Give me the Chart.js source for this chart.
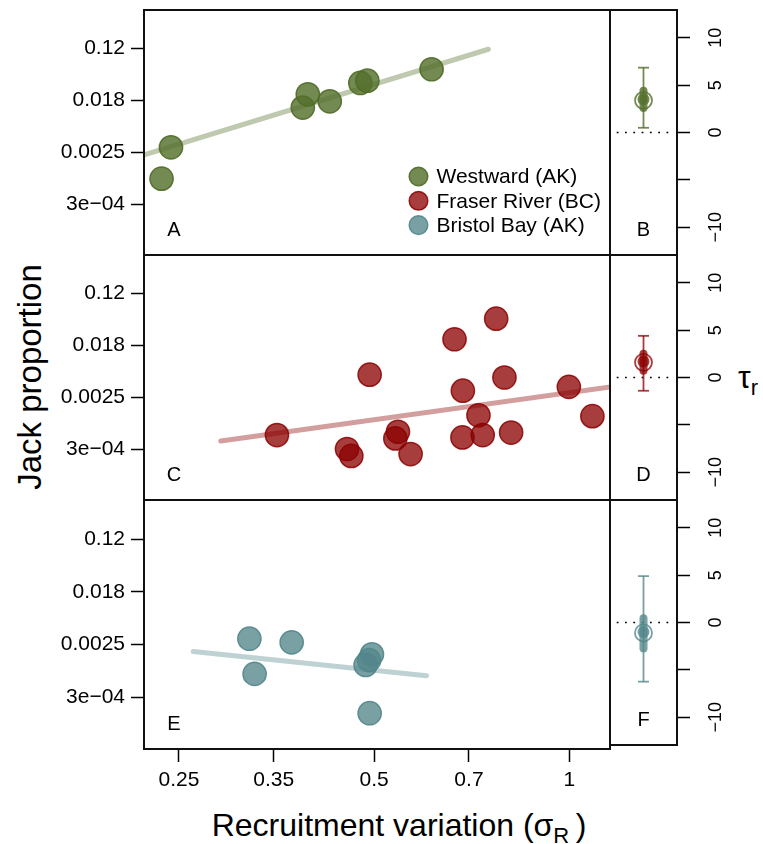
<!DOCTYPE html>
<html>
<head>
<meta charset="utf-8">
<script src="https://cdn.jsdelivr.net/npm/chart.js@4.4.1/dist/chart.umd.min.js"></script>
<style>
  body { margin: 0; background: #fff; }
  #fig { position: relative; width: 763px; height: 844px; overflow: hidden;
         font-family: "Liberation Sans", Arial, Helvetica, sans-serif; color: #000; }
  #fig canvas { position: absolute; }
  .ttl { position: absolute; white-space: nowrap; text-align: center; font-size: 32px; line-height: 36px; }
</style>
</head>
<body>
<div id="fig">
  <div class="ttl" style="left:-170px; top:359px; width:400px; font-size:33px; transform:rotate(-90deg);">Jack proportion</div>
  <div class="ttl" style="left:149px; top:807px; width:500px;">Recruitment variation (σ<span style="font-size:22px; position:relative; top:7px;">R</span>&thinsp;)</div>
  <div class="ttl" style="left:728px; top:359px; width:40px;">τ<span style="font-size:22px; position:relative; top:7px;">r</span></div>
</div>
<script>
// Westward (AK)
const westSigma = [0.235, 0.243, 0.388, 0.395, 0.427, 0.476, 0.488, 0.613];
const westJack = [0.0009, 0.003, 0.0137, 0.0227, 0.0174, 0.0346, 0.0377, 0.0573];
const westFitSigma = [0.2, 0.75];
const westFitJack = [0.00161, 0.116];

// Fraser River (BC)
const fraserSigma = [0.354, 0.454, 0.461, 0.492, 0.544, 0.539, 0.569, 0.665, 0.685,
  0.771, 0.724, 0.684, 0.735, 0.794, 0.813, 0.998, 1.085];
const fraserJack = [0.00058, 0.00034, 0.00026, 0.0059, 0.00066, 0.00051, 0.00028, 0.0227, 0.0032,
  0.0488, 0.00124, 0.00053, 0.00058, 0.0053, 0.00064, 0.0037, 0.0012];
const fraserFitSigma = [0.29, 1.2];
const fraserFitJack = [0.000462, 0.00389];

// Bristol Bay (AK)
const bristolSigma = [0.321, 0.373, 0.327, 0.496, 0.491, 0.485, 0.492];
const bristolJack = [0.0031, 0.0027, 0.00082, 0.00172, 0.00138, 0.00115, 0.000185];
const bristolFitSigma = [0.263, 0.602];
const bristolFitJack = [0.00192, 0.000765];

// tau_r posterior summaries, one entry per region (B, D, F)
const tauLow = [0.5, -1.4, -6.25];
const tauInnerLow = [2.6, 0.7, -2.75];
const tauMedian = [3.5, 1.7, -1.0];
const tauInnerHigh = [4.4, 2.5, 0.45];
const tauHigh = [6.85, 4.4, 4.9];
const tauMean = [3.4, 1.6, -1.1];

// axis ticks
const xTicks = [0.25, 0.35, 0.5, 0.7, 1];
const xTickLabels = ['0.25', '0.35', '0.5', '0.7', '1'];
const yTicks = [-2, -4, -6, -8]; // logit scale
const yTickLabels = ['0.12', '0.018', '0.0025', '3e\u221204'];
const tauTicks = [10, 5, 0, -5, -10];
const tauTickLabels = ['10', '5', '0', '', '\u221210'];

const regionNames = ['Westward (AK)', 'Fraser River (BC)', 'Bristol Bay (AK)'];

const palette = [
  { fill: 'rgba(85,112,45,0.82)', edge: 'rgba(78,108,38,0.9)', line: 'rgba(85,112,45,0.38)' },
  { fill: 'rgba(139,0,0,0.76)', edge: 'rgba(139,0,0,0.85)', line: 'rgba(139,0,0,0.38)' },
  { fill: 'rgba(83,134,139,0.78)', edge: 'rgba(83,134,139,0.9)', line: 'rgba(83,134,139,0.38)' },
];

const FONT = '"Liberation Sans", Arial, Helvetica, sans-serif';
Chart.defaults.font.family = FONT;
Chart.defaults.color = '#000';

const logit = (p) => Math.log(p / (1 - p));
const rowTop = [10, 255, 500];
const fig = document.getElementById('fig');

const addCanvas = (left, top, width, height) => {
  const c = document.createElement('canvas');
  c.width = width;
  c.height = height;
  c.style.left = left + 'px';
  c.style.top = top + 'px';
  c.style.width = width + 'px';
  c.style.height = height + 'px';
  fig.appendChild(c);
  return c;
};

// frame around each panel plus its letter
const panelBox = {
  id: 'panelBox',
  afterDraw(chart, args, opts) {
    const { ctx, chartArea: a } = chart;
    ctx.save();
    ctx.lineWidth = 2;
    ctx.strokeStyle = '#111';
    ctx.strokeRect(a.left, a.top, a.right - a.left, a.bottom - a.top);
    if (opts.letter) {
      ctx.font = '20px ' + FONT;
      ctx.fillStyle = '#000';
      ctx.textAlign = 'center';
      ctx.textBaseline = 'alphabetic';
      ctx.fillText(opts.letter, a.left + opts.letterX, a.bottom - 19);
    }
    ctx.restore();
  },
};

// legend for all three regions, drawn inside panel A
const regionLegend = {
  id: 'regionLegend',
  afterDatasetsDraw(chart) {
    const { ctx, chartArea: a } = chart;
    ctx.save();
    ctx.font = '21px ' + FONT;
    ctx.textBaseline = 'middle';
    ctx.textAlign = 'left';
    regionNames.forEach((name, i) => {
      const y = a.top + 166.5 + 24.3 * i;
      ctx.beginPath();
      ctx.arc(a.left + 274.5, y, 9.3, 0, Math.PI * 2);
      ctx.fillStyle = palette[i].fill;
      ctx.fill();
      ctx.lineWidth = 1.5;
      ctx.strokeStyle = palette[i].edge;
      ctx.stroke();
      ctx.fillStyle = '#000';
      ctx.fillText(name, a.left + 292.5, y + 1);
    });
    ctx.restore();
  },
};

const tickGrid = {
  drawOnChartArea: false,
  drawTicks: true,
  tickLength: 13,
  tickColor: '#000',
  tickWidth: 1.5,
};

const createScatterPanel = (row, letter, sigma, jack, fitSigma, fitJack, showX) => {
  const col = palette[row];
  const canvas = addCanvas(0, rowTop[row] - 4, 614, 253 + (showX ? 46 : 0));
  const extra = row === 0 ? [regionLegend] : [];
  new Chart(canvas, {
    type: 'scatter',
    data: {
      datasets: [
        {
          data: sigma.map((s, i) => ({ x: s, y: logit(jack[i]) })),
          pointRadius: 11.6,
          pointBackgroundColor: col.fill,
          pointBorderColor: col.edge,
          pointBorderWidth: 1.5,
        },
        {
          data: fitSigma.map((s, i) => ({ x: s, y: logit(fitJack[i]) })),
          showLine: true,
          pointRadius: 0,
          borderColor: col.line,
          borderWidth: 5,
          borderCapStyle: 'round',
        },
      ],
    },
    options: {
      responsive: false,
      animation: false,
      devicePixelRatio: 1,
      events: [],
      layout: { autoPadding: false, padding: { top: 4, bottom: showX ? 0 : 4, left: 0, right: 4 } },
      plugins: {
        legend: { display: false },
        tooltip: { enabled: false },
        panelBox: { letter, letterX: 30 },
      },
      scales: {
        x: {
          type: 'logarithmic',
          bounds: 'data',
          min: 0.2208,
          max: 1.155,
          display: showX,
          afterBuildTicks: (s) => { s.ticks = xTicks.map((v) => ({ value: v })); },
          afterFit: (s) => {
            if (showX) s.height = 46;
            s.paddingLeft = 0;
            s.paddingRight = 0;
          },
          grid: tickGrid,
          border: { display: false },
          ticks: {
            padding: 6,
            autoSkip: false,
            maxRotation: 0,
            font: { size: 21 },
            callback: (v, i) => xTickLabels[i],
          },
        },
        y: {
          type: 'linear',
          min: -9.95,
          max: -0.52,
          afterBuildTicks: (s) => { s.ticks = yTicks.map((v) => ({ value: v })); },
          afterFit: (s) => { s.width = 144; s.paddingTop = 0; s.paddingBottom = 0; },
          grid: tickGrid,
          border: { display: false },
          ticks: {
            padding: 6,
            autoSkip: false,
            font: { size: 21 },
            callback: (v, i) => yTickLabels[i],
          },
        },
      },
    },
    plugins: [panelBox, ...extra],
  });
};

const createTauPanel = (row, letter) => {
  const col = palette[row];
  const canvas = addCanvas(606, rowTop[row] - 4, 157, 253);
  const at = (v) => [{ x: 1, y: v }];
  new Chart(canvas, {
    type: 'scatter',
    data: {
      datasets: [
        { // open circle
          data: at(tauMean[row]),
          pointRadius: 8.5,
          pointBackgroundColor: 'rgba(0,0,0,0)',
          pointBorderColor: col.fill,
          pointBorderWidth: 1.8,
        },
        { // median
          data: at(tauMedian[row]),
          pointRadius: 6,
          pointBackgroundColor: col.fill,
          pointBorderWidth: 0,
        },
        { // inner interval
          data: [{ x: 1, y: tauInnerLow[row] }, { x: 1, y: tauInnerHigh[row] }],
          showLine: true,
          pointRadius: 0,
          borderColor: col.fill,
          borderWidth: 8,
          borderCapStyle: 'round',
        },
        { // outer interval
          data: [{ x: 1, y: tauLow[row] }, { x: 1, y: tauHigh[row] }],
          showLine: true,
          pointRadius: 5.5,
          pointStyle: 'line',
          pointBorderColor: col.fill,
          pointBorderWidth: 1.8,
          borderColor: col.fill,
          borderWidth: 1.8,
        },
        { // zero reference
          data: [{ x: 0.2, y: 0 }, { x: 1.8, y: 0 }],
          showLine: true,
          pointRadius: 0,
          borderColor: '#000',
          borderWidth: 1.6,
          borderDash: [1.8, 6.5],
        },
      ],
    },
    options: {
      responsive: false,
      animation: false,
      devicePixelRatio: 1,
      events: [],
      layout: { autoPadding: false, padding: { top: 4, bottom: 4, left: 4, right: 0 } },
      plugins: {
        legend: { display: false },
        tooltip: { enabled: false },
        panelBox: { letter, letterX: 33.5 },
      },
      scales: {
        x: { type: 'linear', min: 0, max: 2, display: false },
        y: {
          type: 'linear',
          position: 'right',
          min: -12.94,
          max: 12.94,
          afterBuildTicks: (s) => { s.ticks = tauTicks.map((v) => ({ value: v })); },
          afterFit: (s) => { s.width = 86; s.paddingTop = 0; s.paddingBottom = 0; },
          grid: tickGrid,
          border: { display: false },
          ticks: {
            padding: 11,
            autoSkip: false,
            minRotation: 90,
            maxRotation: 90,
            crossAlign: 'center',
            font: { size: 18 },
            callback: (v, i) => tauTickLabels[i],
          },
        },
      },
    },
    plugins: [panelBox],
  });
};

createScatterPanel(0, 'A', westSigma, westJack, westFitSigma, westFitJack, false);
createScatterPanel(1, 'C', fraserSigma, fraserJack, fraserFitSigma, fraserFitJack, false);
createScatterPanel(2, 'E', bristolSigma, bristolJack, bristolFitSigma, bristolFitJack, true);
createTauPanel(0, 'B');
createTauPanel(1, 'D');
createTauPanel(2, 'F');
</script>
</body>
</html>
